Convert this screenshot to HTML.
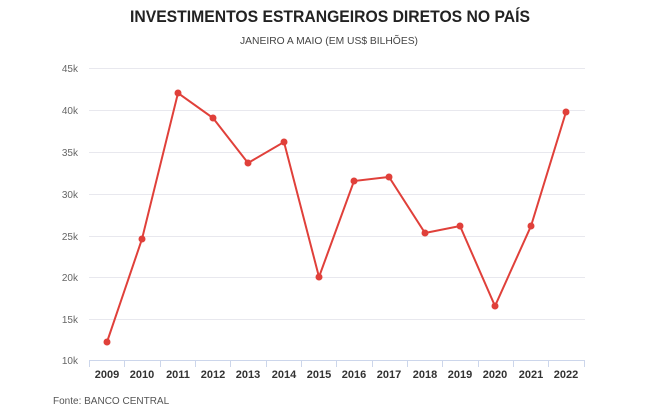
<!DOCTYPE html>
<html><head><style>body{margin:0;background:#fff;width:667px;height:408px;overflow:hidden;font-family:"Liberation Sans",sans-serif}</style></head>
<body>
<svg width="667" height="408" xmlns="http://www.w3.org/2000/svg" font-family="Liberation Sans, sans-serif">
<text x="130" y="22" font-size="17" font-weight="bold" fill="#222" textLength="400" lengthAdjust="spacingAndGlyphs">INVESTIMENTOS ESTRANGEIROS DIRETOS NO PAÍS</text>
<text x="240" y="44" font-size="10" fill="#444" textLength="178" lengthAdjust="spacingAndGlyphs">JANEIRO A MAIO (EM US$ BILHÕES)</text>
<g stroke="#e8e8ee" stroke-width="1">
<line x1="89" x2="585" y1="68.5" y2="68.5"/><line x1="89" x2="585" y1="110.5" y2="110.5"/><line x1="89" x2="585" y1="152.5" y2="152.5"/><line x1="89" x2="585" y1="194.5" y2="194.5"/><line x1="89" x2="585" y1="236.5" y2="236.5"/><line x1="89" x2="585" y1="277.5" y2="277.5"/><line x1="89" x2="585" y1="319.5" y2="319.5"/>
</g>
<line x1="89" x2="585" y1="360.5" y2="360.5" stroke="#ccd6eb"/>
<g stroke="#ccd6eb">
<line x1="89.5" x2="89.5" y1="360" y2="367"/><line x1="124.5" x2="124.5" y1="360" y2="367"/><line x1="160.5" x2="160.5" y1="360" y2="367"/><line x1="195.5" x2="195.5" y1="360" y2="367"/><line x1="230.5" x2="230.5" y1="360" y2="367"/><line x1="266.5" x2="266.5" y1="360" y2="367"/><line x1="301.5" x2="301.5" y1="360" y2="367"/><line x1="336.5" x2="336.5" y1="360" y2="367"/><line x1="372.5" x2="372.5" y1="360" y2="367"/><line x1="407.5" x2="407.5" y1="360" y2="367"/><line x1="442.5" x2="442.5" y1="360" y2="367"/><line x1="478.5" x2="478.5" y1="360" y2="367"/><line x1="513.5" x2="513.5" y1="360" y2="367"/><line x1="548.5" x2="548.5" y1="360" y2="367"/><line x1="584.5" x2="584.5" y1="360" y2="367"/>
</g>
<g font-size="10" fill="#666" text-anchor="end">
<text x="78" y="72">45k</text><text x="78" y="114">40k</text><text x="78" y="156">35k</text><text x="78" y="198">30k</text><text x="78" y="240">25k</text><text x="78" y="281">20k</text><text x="78" y="323">15k</text><text x="78" y="364">10k</text>
</g>
<g font-size="11" font-weight="bold" fill="#333" text-anchor="middle">
<text x="107" y="378">2009</text><text x="142" y="378">2010</text><text x="178" y="378">2011</text><text x="213" y="378">2012</text><text x="248" y="378">2013</text><text x="284" y="378">2014</text><text x="319" y="378">2015</text><text x="354" y="378">2016</text><text x="389" y="378">2017</text><text x="425" y="378">2018</text><text x="460" y="378">2019</text><text x="495" y="378">2020</text><text x="531" y="378">2021</text><text x="566" y="378">2022</text>
</g>
<polyline fill="none" stroke="#e0403a" stroke-width="2" points="107,342 142,239 178,93 213,118 248,163 284,142 319,277 354,181 389,177 425,233 460,226 495,306 531,226 566,112"/>
<g fill="#e0403a">
<circle cx="107" cy="342" r="3.5"/><circle cx="142" cy="239" r="3.5"/><circle cx="178" cy="93" r="3.5"/><circle cx="213" cy="118" r="3.5"/><circle cx="248" cy="163" r="3.5"/><circle cx="284" cy="142" r="3.5"/><circle cx="319" cy="277" r="3.5"/><circle cx="354" cy="181" r="3.5"/><circle cx="389" cy="177" r="3.5"/><circle cx="425" cy="233" r="3.5"/><circle cx="460" cy="226" r="3.5"/><circle cx="495" cy="306" r="3.5"/><circle cx="531" cy="226" r="3.5"/><circle cx="566" cy="112" r="3.5"/>
</g>
<text x="53" y="404" font-size="10" fill="#555">Fonte: BANCO CENTRAL</text>
</svg>
</body></html>
